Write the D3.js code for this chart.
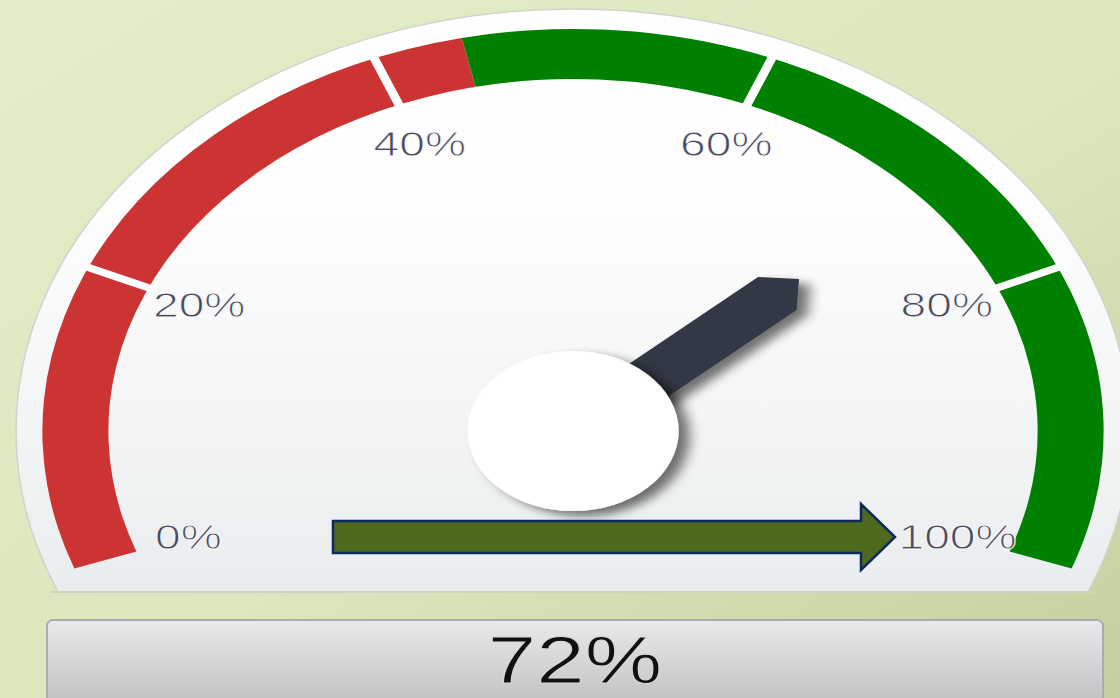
<!DOCTYPE html>
<html><head><meta charset="utf-8">
<script src="https://cdn.jsdelivr.net/npm/d3@7"></script>
<style>html,body{margin:0;padding:0;overflow:hidden;background:#dde9bf}</style>
</head><body>
<script>
// ---- data ----
const tickValues = [0, 20, 40, 60, 80, 100];
const tickLabels = ["0%", "20%", "40%", "60%", "80%", "100%"];
const bandFrom = [0, 44.5];
const bandTo = [44.5, 100];
const bandColors = ["#cc3333", "#008000"];
const gaugeValue = 72;
const valueLabel = "72%";

// ---- layout ----
const W = 1120, H = 698;
const cx = 573, cy = 431, sx = 1.32;
const rPanel = 422, rOut = 402, rIn = 352, rLabel = 310, rHub = 80;

const svg = d3.select("body").append("svg").attr("width", W).attr("height", H);
const defs = svg.append("defs");

const bg = defs.append("linearGradient").attr("id", "bg").attr("x1", 0).attr("y1", 0).attr("x2", 1).attr("y2", 1);
bg.append("stop").attr("offset", 0).attr("stop-color", "#e2eec6");
bg.append("stop").attr("offset", 0.55).attr("stop-color", "#dbe7bd");
bg.append("stop").attr("offset", 1).attr("stop-color", "#c3cf9e");

const pg = defs.append("linearGradient").attr("id", "pg").attr("gradientUnits", "userSpaceOnUse")
  .attr("x1", 0).attr("y1", 10).attr("x2", 0).attr("y2", 592);
pg.append("stop").attr("offset", 0).attr("stop-color", "#ffffff");
pg.append("stop").attr("offset", 0.35).attr("stop-color", "#fdfdfd");
pg.append("stop").attr("offset", 1).attr("stop-color", "#eaedef");

const vg = defs.append("linearGradient").attr("id", "vg").attr("x1", 0).attr("y1", 0).attr("x2", 0).attr("y2", 1);
vg.append("stop").attr("offset", 0).attr("stop-color", "#e8eaec");
vg.append("stop").attr("offset", 1).attr("stop-color", "#b9b9b9");

const sh = defs.append("filter").attr("id", "sh").attr("x", "-30%").attr("y", "-30%").attr("width", "160%").attr("height", "160%");
sh.append("feGaussianBlur").attr("in", "SourceAlpha").attr("stdDeviation", 5).attr("result", "b");
sh.append("feOffset").attr("in", "b").attr("dx", 8).attr("dy", 5).attr("result", "o");
sh.append("feComponentTransfer").attr("in", "o").attr("result", "s")
  .append("feFuncA").attr("type", "linear").attr("slope", 0.55);
const m = sh.append("feMerge");
m.append("feMergeNode").attr("in", "s");
m.append("feMergeNode").attr("in", "SourceGraphic");

svg.append("rect").attr("width", W).attr("height", H).attr("fill", "url(#bg)");

// panel (ellipse clipped at bottom)
defs.append("clipPath").attr("id", "pc").append("rect").attr("x", 0).attr("y", 0).attr("width", W).attr("height", 592);
svg.append("ellipse").attr("cx", cx).attr("cy", cy).attr("rx", rPanel * sx).attr("ry", rPanel)
  .attr("fill", "url(#pg)").attr("stroke", "#cfd3cf").attr("stroke-width", 1.5)
  .attr("clip-path", "url(#pc)");
svg.append("line").attr("x1", 50).attr("x2", 1096).attr("y1", 592).attr("y2", 592)
  .attr("stroke", "#cdd6bc").attr("stroke-width", 2);

const angle = d3.scaleLinear().domain([0, 100]).range([-110, 110]);
const rad = d => angle(d) * Math.PI / 180;

const g = svg.append("g").attr("transform", `translate(${cx},${cy}) scale(${sx},1)`);

// bands
const arc = d3.arc().innerRadius(rIn).outerRadius(rOut);
g.selectAll("path.band").data(bandFrom).join("path").attr("class", "band")
  .attr("d", (d, i) => arc({startAngle: rad(d), endAngle: rad(bandTo[i])}))
  .attr("fill", (d, i) => bandColors[i]);

// separators
g.selectAll("line.sep").data(tickValues.slice(1, -1)).join("line").attr("class", "sep")
  .attr("x1", d => (rIn - 6) * Math.sin(rad(d))).attr("y1", d => -(rIn - 6) * Math.cos(rad(d)))
  .attr("x2", d => (rOut + 6) * Math.sin(rad(d))).attr("y2", d => -(rOut + 6) * Math.cos(rad(d)))
  .attr("stroke", "#ffffff").attr("stroke-width", 7);

// labels
g.selectAll("text.tl").data(tickValues).join("text").attr("class", "tl")
  .attr("x", d => rLabel * Math.sin(rad(d))).attr("y", d => -rLabel * Math.cos(rad(d)))
  .attr("text-anchor", "middle").attr("dominant-baseline", "central")
  .attr("font-family", "Liberation Sans, Arial, sans-serif").attr("font-size", 35)
  .attr("fill", "#4a4a5e").attr("stroke", "#f8f9fa").attr("stroke-width", 0.9)
  .text((d, i) => tickLabels[i]);

// needle
const a = rad(gaugeValue), w = 22, r1 = 207, r2 = 229, r0 = 20;
const P = (r, t) => [r * Math.sin(a) + t * Math.cos(a), -r * Math.cos(a) + t * Math.sin(a)];
const needlePts = [P(r0, -w), P(r1, -w), P(r2, 0), P(r1, w), P(r0, w)];
g.append("path").attr("d", d3.line()(needlePts) + "Z").attr("fill", "#323844").attr("filter", "url(#sh)");

// hub
g.append("circle").attr("r", rHub).attr("fill", "#ffffff").attr("filter", "url(#sh)");

// arrow annotation
const ax0 = 333, ax1 = 861, ax2 = 895, ay = 537, sh1 = 16, sh2 = 33;
svg.append("path")
  .attr("d", d3.line()([[ax0, ay - sh1], [ax1, ay - sh1], [ax1, ay - sh2], [ax2, ay], [ax1, ay + sh2], [ax1, ay + sh1], [ax0, ay + sh1]]) + "Z")
  .attr("fill", "#4e6a1e").attr("stroke", "#0c2a5e").attr("stroke-width", 2.5).attr("stroke-linejoin", "miter");

// value box
svg.append("rect").attr("x", 47).attr("y", 620).attr("width", 1056).attr("height", 100).attr("rx", 6)
  .attr("fill", "url(#vg)").attr("stroke", "#a9aab3").attr("stroke-width", 2);
svg.append("text").attr("transform", `translate(575,683) scale(${sx},1)`)
  .attr("text-anchor", "middle").attr("font-family", "Liberation Sans, Arial, sans-serif")
  .attr("font-size", 66).attr("fill", "#111").attr("stroke", "#d6d7d8").attr("stroke-width", 1)
  .text(valueLabel);
</script>
</body></html>
